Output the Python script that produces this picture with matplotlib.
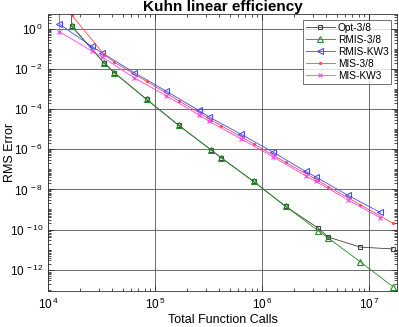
import numpy as np
import matplotlib
matplotlib.use("Agg")
import matplotlib.pyplot as plt
from matplotlib.ticker import LogLocator, FixedLocator, NullFormatter

plt.rcParams['font.family'] = ['Liberation Sans', 'DejaVu Sans']
plt.rcParams['mathtext.default'] = 'regular'

# function calls (3/8 runs and KW3 runs)
n_38 = [1.6e4, 1.667e4, 3.333e4, 4.167e4, 8.333e4, 1.667e5, 3.333e5, 4.167e5,
        8.333e5, 1.667e6, 3.333e6, 4.167e6, 8.333e6, 1.667e7]
n_kw3 = [1.27e4, 1.28e4, 2.56e4, 3.2e4, 6.4e4, 1.28e5, 2.56e5, 3.2e5,
         6.4e5, 1.28e6, 2.56e6, 3.2e6, 6.4e6, 1.28e7]

# log10 of RMS error
opt_38 = [3.0, 0.15, -1.68, -2.17, -3.5, -4.8, -6.02, -6.42, -7.6, -8.85,
          -9.92, -10.38, -10.88, -10.97]
rmis_38 = [3.0, 0.15, -1.68, -2.17, -3.5, -4.8, -6.02, -6.42, -7.6, -8.85,
           -10.05, -10.43, -11.62, -12.85]
rmis_kw3 = [3.0, 0.25, -0.85, -1.18, -2.17, -3.1, -4.05, -4.38, -5.25, -6.15,
            -7.1, -7.38, -8.3, -9.15]
mis_38 = [0.7, -1.25, -1.65, -2.6, -3.57, -4.52, -4.82, -5.72, -6.65,
          -7.55, -7.86, -8.77, -9.68]
mis_kw3 = [3.0, -0.13, -1.08, -1.38, -2.43, -3.33, -4.27, -4.6, -5.48, -6.38,
           -7.32, -7.6, -8.53, -9.42]

fig = plt.figure(figsize=(3.99, 3.27), dpi=100)
ax = fig.add_axes([0.1203, 0.1101, 0.8747, 0.8471])

lw = 0.6
ax.plot(n_38, 10.0 ** np.array(opt_38), color='#404040', lw=lw, marker='s',
        ms=3.5, mfc='none', mew=0.8, label='Opt-3/8')
ax.plot(n_38, 10.0 ** np.array(rmis_38), color='#2a8a2a', lw=lw, marker='^',
        ms=4.5, mfc='none', mew=0.8, label='RMIS-3/8')
ax.plot(n_kw3, 10.0 ** np.array(rmis_kw3), color='#4848ff', lw=lw, marker='<',
        ms=4.5, mfc='none', mew=0.8, label='RMIS-KW3')
ax.plot(n_38[1:], 10.0 ** np.array(mis_38), color='#ff4848', lw=lw, marker='.',
        ms=2.5, label='MIS-3/8')
ax.plot(n_kw3, 10.0 ** np.array(mis_kw3), color='#ff40ff', lw=lw, marker='x',
        ms=3, mew=0.8, label='MIS-KW3')

ax.set_xscale('log')
ax.set_yscale('log')
ax.set_xlim(1e4, 10 ** 7.262)
ax.set_ylim(10 ** -13.07, 10 ** 0.76)

ax.xaxis.set_major_locator(FixedLocator([1e4, 1e5, 1e6, 1e7]))
ax.set_xticklabels(['$10^{\\,4}$', '$10^{\\,5}$', '$10^{\\,6}$', '$10^{\\,7}$'])
yt = [10.0 ** k for k in range(-12, 1, 2)]
ax.yaxis.set_major_locator(FixedLocator(yt))
ax.set_yticklabels(['$10^{\\,%d}$' % k for k in range(-12, 1, 2)])
ax.xaxis.set_minor_locator(LogLocator(base=10, subs=np.arange(2, 10), numticks=20))
ax.yaxis.set_minor_locator(LogLocator(base=10, subs=np.arange(1, 10), numticks=40))
ax.xaxis.set_minor_formatter(NullFormatter())
ax.yaxis.set_minor_formatter(NullFormatter())

ax.tick_params(which='both', direction='in', top=True, right=True,
               labelsize=8.5, width=0.6, color='#333333')
ax.tick_params(which='major', length=4)
ax.tick_params(which='minor', length=2)
ax.tick_params(axis='x', pad=4)
ax.grid(True, which='major', color='#555555', lw=0.6)
for s in ax.spines.values():
    s.set_linewidth(0.6)
    s.set_color('#333333')

ax.set_title('Kuhn linear efficiency', fontsize=11, fontweight='bold', pad=2)
ax.set_xlabel('Total Function Calls', fontsize=9)
ax.set_ylabel('RMS Error', fontsize=9)
ax.xaxis.set_label_coords(0.5, -0.106)
ax.yaxis.set_label_coords(-0.11, 0.5)
ax.xaxis.label.set_va('center')
ax.yaxis.label.set_va('center')

leg = ax.legend(loc='upper right', fontsize=7.3, frameon=True, fancybox=False,
                handlelength=2.8, handletextpad=0.3, borderpad=0.3,
                labelspacing=0.2, borderaxespad=0.55)
leg.get_frame().set_edgecolor('#333333')
leg.get_frame().set_linewidth(0.6)

fig.savefig('out.png', dpi=100)
